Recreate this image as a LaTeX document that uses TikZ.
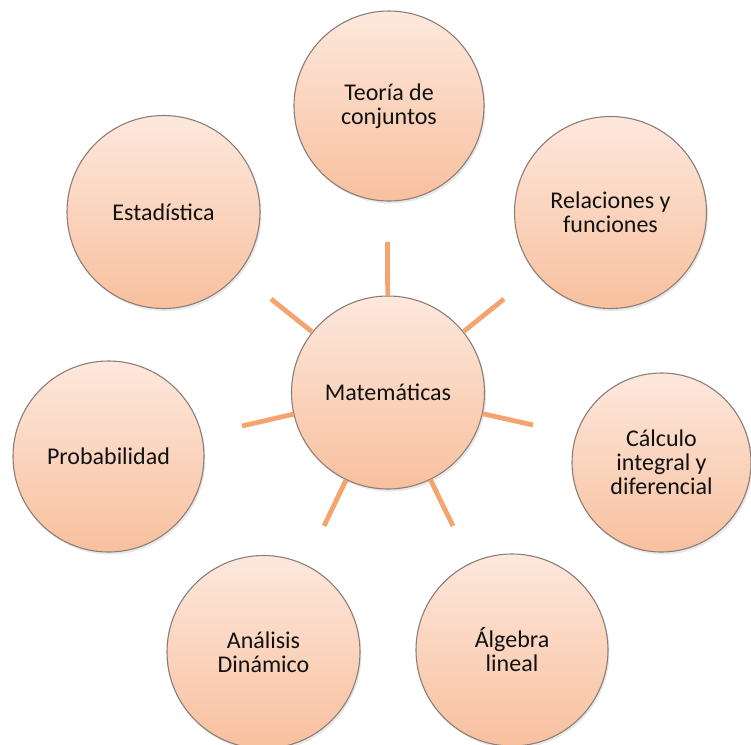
\documentclass[tikz,border=0pt]{standalone}
\usepackage{fontspec}
\setmainfont{Carlito}
\usetikzlibrary{shadows}
\definecolor{topc}{HTML}{FDE8DD}
\definecolor{botc}{HTML}{F8C09E}
\definecolor{rimc}{HTML}{8C7E76}
\definecolor{spokec}{HTML}{F6A46E}
\definecolor{txtc}{HTML}{111111}
\tikzset{
  bubble/.style={circle, draw=rimc, line width=1.1pt, top color=topc, bottom color=botc,
    align=center, text=txtc, font=\fontsize{24}{24}\selectfont, inner sep=0pt,
    drop shadow={opacity=0.18, shadow xshift=1.5pt, shadow yshift=-2.5pt}},
  spoke/.style={draw=spokec, line width=4.8pt}
}
\begin{document}
\begin{tikzpicture}[x=1pt,y=-1pt]
\useasboundingbox (0,0) rectangle (751,744);
% outer circles
\node[bubble, minimum size=190pt] (teo) at (389,106) {Teoría de\\conjuntos};
\node[bubble, minimum size=192pt] (rel) at (610.5,212.5) {Relaciones y\\funciones};
\node[bubble, minimum size=179pt] (cal) at (661.5,462.5) {Cálculo\\integral y\\diferencial};
\node[bubble, minimum size=192pt] (alg) at (512,650) {Álgebra\\lineal};
\node[bubble, minimum size=193pt] (ana) at (263.5,652) {Análisis\\Dinámico};
\node[bubble, minimum size=191pt] (pro) at (108.5,456.5) {Probabilidad};
\node[bubble, minimum size=193pt] (est) at (163.5,212) {Estadística};
% spoke end points
\coordinate (e1) at (387.5,242);
\coordinate (e2) at (504,299);
\coordinate (e3) at (533,425);
\coordinate (e4) at (453,526);
\coordinate (e5) at (324,526);
\coordinate (e6) at (242,426);
\coordinate (e7) at (271,299);
% centre
\node[bubble, minimum size=193pt] (mat) at (388,392.5) {Matemáticas};
\foreach \e in {e1,e2,e3,e4,e5,e6,e7}{
  \draw[spoke] (mat) -- (\e);
}
\end{tikzpicture}
\end{document}
